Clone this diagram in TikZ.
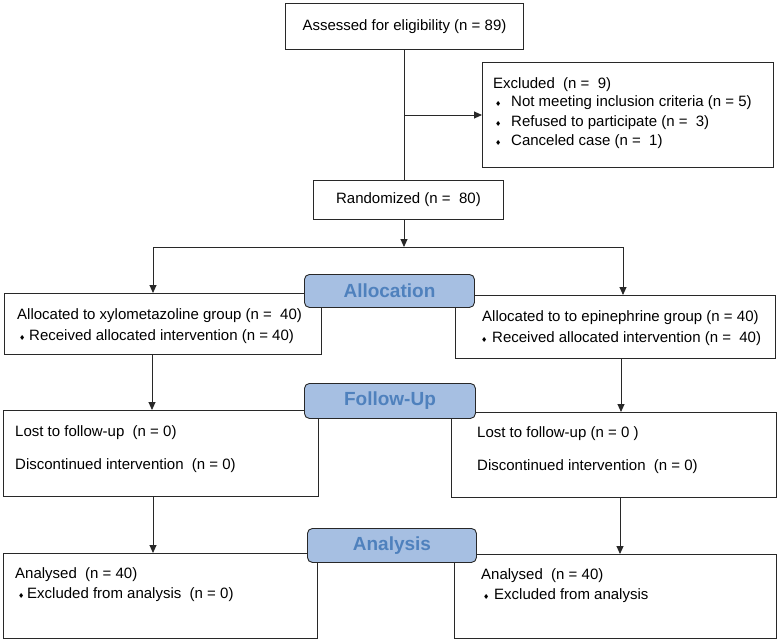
\documentclass[tikz,border=0pt]{standalone}
\usepackage{fontspec}
\setmainfont{Liberation Sans}
\newfontfamily\symfont{DejaVu Sans}
\usetikzlibrary{arrows.meta}
\definecolor{lblfill}{RGB}{166,191,226}
\definecolor{lbltext}{RGB}{79,129,189}
\definecolor{edgecol}{RGB}{40,40,40}
\tikzset{
  box/.style={draw=edgecol, line width=0.9pt, inner sep=0pt, anchor=north west, fill=white},
  lbl/.style={draw=edgecol, line width=0.9pt, fill=lblfill, rounded corners=5pt, anchor=north west,
    inner sep=0pt, text=lbltext, font=\fontsize{19}{19}\selectfont\bfseries},
  txt/.style={anchor=base west, inner sep=0pt, font=\fontsize{15}{18}\selectfont},
  ctxt/.style={font=\fontsize{15}{18}\selectfont},
  bul/.style={anchor=base west, inner sep=0pt, font=\symfont\fontsize{7}{7}\selectfont},
  arr/.style={draw=edgecol, line width=0.9pt, -{Triangle[length=8pt,width=7pt]}},
  ln/.style={draw=edgecol, line width=0.9pt},
}
\begin{document}
\begin{tikzpicture}[x=1pt,y=-1pt]
\useasboundingbox[fill=white] (0,0) rectangle (778,642);

% boxes
\node[box, ctxt, minimum width=238, minimum height=46] (assess) at (285,3) {Assessed for eligibility (n = 89)};
\node[box, minimum width=291, minimum height=105] (excl) at (482,62) {};
\node[box, ctxt, minimum width=190, minimum height=39] (rand) at (313,180) {Randomized (n =\ \ 80)};
\node[box, minimum width=317, minimum height=61] (allocL) at (4,293) {};
\node[box, minimum width=320, minimum height=63] (allocR) at (455,295) {};
\node[box, minimum width=315, minimum height=86] (fuL) at (3,410) {};
\node[box, minimum width=325, minimum height=85] (fuR) at (451,412) {};
\node[box, minimum width=314, minimum height=85] (anL) at (3,553) {};
\node[box, minimum width=322, minimum height=84] (anR) at (454,554) {};

% phase labels
\node[lbl, minimum width=170, minimum height=33] (labA) at (304,274) {Allocation};
\node[lbl, minimum width=171, minimum height=35] (labF) at (304,383) {Follow-Up};
\node[lbl, minimum width=169, minimum height=34] (labN) at (307,528) {Analysis};

% texts: excluded
\node[txt] (e0) at (493,88) {Excluded\ \ (n =\ \ 9)};
\node[bul] (eb1) at (495,106) {♦};
\node[txt] (e1) at (511,106) {Not meeting inclusion criteria (n = 5)};
\node[bul] (eb2) at (495,126) {♦};
\node[txt] (e2) at (511,126) {Refused to participate (n =\ \ 3)};
\node[bul] (eb3) at (495,145) {♦};
\node[txt] (e3) at (511,145) {Canceled case (n =\ \ 1)};

% allocation texts
\node[txt] (aL1) at (17,319) {Allocated to xylometazoline group (n =\ \ 40)};
\node[bul] (aLb) at (19,340) {♦};
\node[txt] (aL2) at (29,340) {Received allocated intervention (n = 40)};
\node[txt] (aR1) at (482,321) {Allocated to to epinephrine group (n = 40)};
\node[bul] (aRb) at (481,342) {♦};
\node[txt] (aR2) at (492,342) {Received allocated intervention (n =\ \ 40)};

% follow-up texts
\node[txt] (fL1) at (15,436) {Lost to follow-up\ \ (n = 0)};
\node[txt] (fL2) at (15,469) {Discontinued intervention\ \ (n = 0)};
\node[txt] (fR1) at (477,437) {Lost to follow-up (n = 0 )};
\node[txt] (fR2) at (477,470) {Discontinued intervention\ \ (n = 0)};

% analysis texts
\node[txt] (nL1) at (15,578) {Analysed\ \ (n = 40)};
\node[bul] (nLb) at (18,598) {♦};
\node[txt] (nL2) at (27,598) {Excluded from analysis\ \ (n = 0)};
\node[txt] (nR1) at (481,579) {Analysed\ \ (n = 40)};
\node[bul] (nRb) at (483,599) {♦};
\node[txt] (nR2) at (494,599) {Excluded from analysis};

% connectors
\coordinate (j1) at (404,115);
\coordinate (split) at (404,247);
\coordinate (sL) at (153,247);
\coordinate (sR) at (623,247);
\draw[ln] (assess.south) -- (assess.south |- rand.north);
\draw[arr] (j1) -- (j1 -| excl.west);
\draw[arr] (split |- rand.south) -- (split);
\draw[ln] (sL) -- (sR);
\draw[arr] (sL) -- (sL |- allocL.north);
\draw[arr] (sR) -- (sR |- allocR.north);
\coordinate (cL1) at (152,354);
\coordinate (cR1) at (621,358);
\draw[arr] (cL1) -- (cL1 |- fuL.north);
\draw[arr] (cR1) -- (cR1 |- fuR.north);
\coordinate (cL2) at (153,496);
\coordinate (cR2) at (620,497);
\draw[arr] (cL2) -- (cL2 |- anL.north);
\draw[arr] (cR2) -- (cR2 |- anR.north);
\end{tikzpicture}
\end{document}
